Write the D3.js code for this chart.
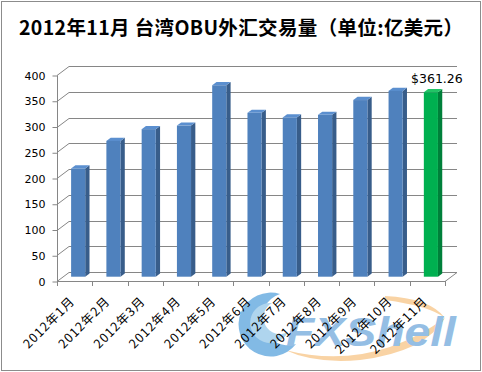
<!DOCTYPE html>
<html>
<head>
<meta charset="utf-8">
<script src="https://cdnjs.cloudflare.com/ajax/libs/d3/7.8.5/d3.min.js"></script>
<style>
  body { margin: 0; background: #fff; }
  svg { display: block; }
</style>
</head>
<body>
<div id="chart"></div>
<script>
var months = ["2012年1月","2012年2月","2012年3月","2012年4月","2012年5月","2012年6月",
              "2012年7月","2012年8月","2012年9月","2012年10月","2012年11月"];
var volumes = [212, 266, 289, 296, 375, 321, 312, 317, 346, 364, 361.26];
var yTicks = [0, 50, 100, 150, 200, 250, 300, 350, 400];
var titleText = "2012年11月 台湾OBU外汇交易量（单位:亿美元）";
var lastLabel = "$361.26";

var W = 482, H = 372;
var depthX = 12, depthY = -9;   // back wall offset

var svg = d3.select("#chart").append("svg")
    .attr("width", W).attr("height", H);

svg.append("rect").attr("width", W).attr("height", H).attr("fill", "#fff");
svg.append("rect")
    .attr("x", 1.5).attr("y", 1.5).attr("width", W - 3).attr("height", H - 3)
    .attr("fill", "none").attr("stroke", "#8c8c8c");

// watermark (rough)
var wm = svg.append("g").attr("opacity", 0.8);
wm.append("path")
    .attr("d", "M285,350 Q370,372 445,318 Q425,352 360,360 Q315,364 285,350 Z")
    .attr("fill", "#f8c98e");
wm.append("path")
    .attr("d", "M385,296 Q430,298 445,318 Q430,306 385,300 Z")
    .attr("fill", "#f8c98e");
wm.append("path")
    .attr("d", "M280,294 A32,32 0 1,0 296,344 A26,26 0 1,1 280,294 Z")
    .attr("fill", "#64a9df");
wm.append("path")
    .attr("d", "M272,303 A20,20 0 1,0 288,332 A14,14 0 1,1 272,303 Z")
    .attr("fill", "#9ccbeb");
wm.append("text")
    .attr("x", 286).attr("y", 346)
    .attr("font-family", "Liberation Sans, Arial, sans-serif")
    .attr("font-weight", "bold").attr("font-style", "italic")
    .attr("font-size", 40)
    .attr("textLength", 170).attr("lengthAdjust", "spacingAndGlyphs")
    .attr("fill", "#7aaede")
    .text("FXShell");

// scales
var x = d3.scaleBand().domain(months).range([57, 445]).padding(0);
var yFront = d3.scaleLinear().domain([0, 400]).range([281, 75]);
var yBar = d3.scaleLinear().domain([0, 400]).range([276.7, 72.5]);

var grid = svg.append("g").attr("stroke", "#868686").attr("fill", "none").attr("stroke-width", 1);

// back wall gridlines + side wall diagonals
yTicks.forEach(function(t){
  var yf = Math.round(yFront(t)) + 0.5;
  var yb = yf + depthY;
  grid.append("line").attr("x1", 57 + depthX).attr("x2", 445 + depthX)
      .attr("y1", yb).attr("y2", yb);
  grid.append("line").attr("x1", 57).attr("x2", 57 + depthX)
      .attr("y1", yf).attr("y2", yb);
});
// floor right edge and front edge
grid.append("line").attr("x1", 445).attr("y1", 281.5).attr("x2", 445 + depthX).attr("y2", 281.5 + depthY);
grid.append("line").attr("x1", 57).attr("y1", 281.5).attr("x2", 445).attr("y2", 281.5);

// y axis (front)
var yAxis = d3.axisLeft(yFront).tickValues(yTicks).tickSize(5).tickPadding(7);
var gy = svg.append("g").attr("transform", "translate(57.5,0.5)").call(yAxis);
gy.select(".domain").attr("stroke", "#868686").attr("d", "M0," + yFront(400) + "V" + yFront(0));
gy.selectAll(".tick line").attr("stroke", "#868686");
gy.selectAll(".tick text")
    .attr("font-family", "DejaVu Sans, sans-serif").attr("font-size", 11).attr("fill", "#000");

// x tick marks at category boundaries
var bounds = months.map(function(m){ return x(m); }).concat([445]);
svg.append("g").selectAll("line").data(bounds).enter().append("line")
    .attr("x1", function(d){ return Math.round(d) + 0.5; })
    .attr("x2", function(d){ return Math.round(d) + 0.5; })
    .attr("y1", 281).attr("y2", 286)
    .attr("stroke", "#868686");

// x labels
svg.append("g").selectAll("text").data(months).enter().append("text")
    .attr("transform", function(d){
      return "translate(" + (x(d) + x.bandwidth() / 2 + 1) + ",302) rotate(-45)";
    })
    .attr("text-anchor", "end")
    .attr("font-family", "Noto Sans CJK SC, sans-serif")
    .attr("font-size", 12.5)
    .attr("letter-spacing", 1)
    .attr("fill", "#000")
    .text(function(d){ return d; });

// 3D bars
var bw = x.bandwidth() * 0.4, dx = 4.3, dy = -3.2;
var barColors = {
  blue:  { front: "#4f81bd", side: "#385d8a", top: "#5b8fcf" },
  green: { front: "#00b050", side: "#00803a", top: "#22c466" }
};
var bars = svg.append("g").selectAll("g").data(volumes).enter().append("g");
bars.each(function(v, i){
  var c = i === volumes.length - 1 ? barColors.green : barColors.blue;
  var g = d3.select(this);
  var x0 = x(months[i]) + x.bandwidth() * 0.4;
  var y0 = yBar(v), yb = yBar(0);
  g.append("path")
    .attr("d", "M" + (x0 + bw) + "," + y0 + "L" + (x0 + bw + dx) + "," + (y0 + dy) +
               "L" + (x0 + bw + dx) + "," + (yb + dy) + "L" + (x0 + bw) + "," + yb + "Z")
    .attr("fill", c.side);
  g.append("path")
    .attr("d", "M" + x0 + "," + y0 + "L" + (x0 + dx) + "," + (y0 + dy) +
               "L" + (x0 + bw + dx) + "," + (y0 + dy) + "L" + (x0 + bw) + "," + y0 + "Z")
    .attr("fill", c.top);
  g.append("rect")
    .attr("x", x0).attr("y", y0).attr("width", bw).attr("height", yb - y0)
    .attr("fill", c.front);
});

// data label on last bar
var lastM = months[months.length - 1];
svg.append("text")
    .attr("x", x(lastM) + x.bandwidth() * 0.4 + bw / 2 + 6)
    .attr("y", yBar(volumes[volumes.length - 1]) - 9)
    .attr("text-anchor", "middle")
    .attr("font-family", "DejaVu Sans, sans-serif")
    .attr("font-size", 12.5)
    .attr("fill", "#000")
    .text(lastLabel);

// title
svg.append("text")
    .attr("x", 241).attr("y", 35)
    .attr("text-anchor", "middle")
    .attr("font-family", "Noto Sans CJK SC, sans-serif")
    .attr("font-weight", "bold")
    .attr("font-size", 19.5)
    .attr("textLength", 444).attr("lengthAdjust", "spacing")
    .attr("fill", "#000")
    .text(titleText);
</script>
</body>
</html>
